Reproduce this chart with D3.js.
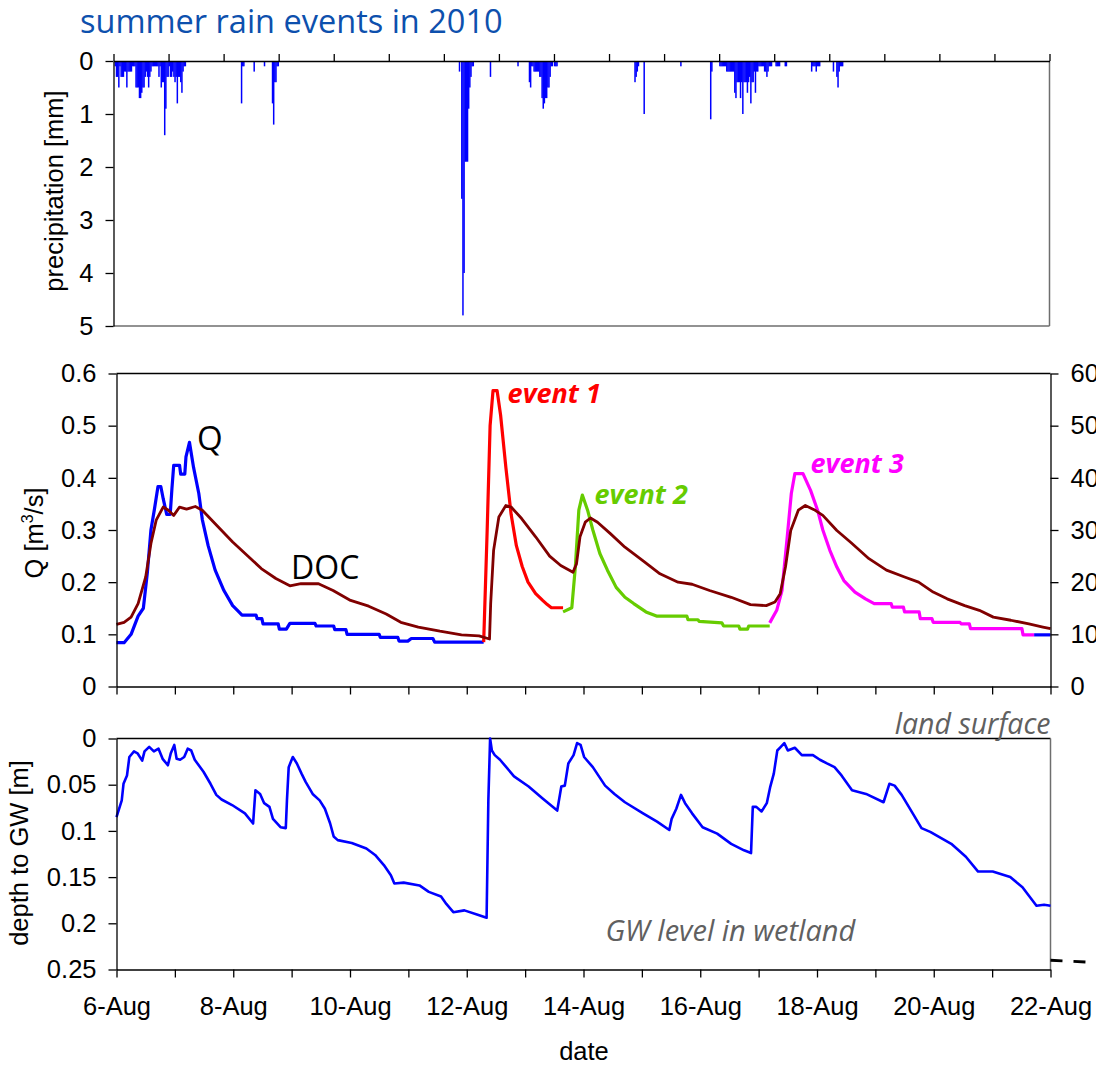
<!DOCTYPE html>
<html>
<head>
<meta charset="utf-8">
<script src="https://cdn.jsdelivr.net/npm/d3@7"></script>
<style>
  body { margin: 0; background: #fff; }
  svg { display: block; font-family: "Liberation Sans", Arial, sans-serif; }
</style>
</head>
<body>
<svg id="chart" width="1096" height="1067"></svg>
<script>
// ---- data (time in days / hours after 6-Aug-2010 00:00) ----

// precipitation [hour, mm], half-hour bins
const precip = [
  [0.5,0.1],[1,0.3],[1.5,0.3],[2,0.5],[2.5,0.1],[3,0.3],[3.5,0.3],[4,0.3],[4.5,0.2],[5,0.2],[5.5,0.5],[6,0.2],[6.5,0.2],[7,0.2],[7.5,0.2],[8,0.1],[8.5,0.1],[9,0.1],
  [9.5,0.5],[10,0.5],[10.5,0.5],[11,0.7],[11.5,0.7],[12,0.6],[12.5,0.5],[13,0.5],[13.5,0.3],[14,0.2],[14.5,0.3],[15,0.5],[15.5,0.3],[16,0.2],[16.5,0.1],
  [17,0.1],[17.5,0.1],[18,0.1],[18.5,0.1],[19,0.1],
  [19.5,0.3],[20,0.1],[20.5,0.5],[21,0.4],[21.5,0.4],[22,1.4],[22.5,0.9],[23,0.3],[23.5,0.3],
  [24,0.1],[24.5,0.3],[25,0.3],[25.5,0.2],[26,0.3],[26.5,0.4],[27,0.3],[27.5,0.8],[28,0.3],[28.5,0.3],[29,0.4],[29.5,0.6],[30,0.2],[30.5,0.1],[31,0.1],
  [55.5,0.8],[56,0.1],[56.5,0.1],
  [61,0.2],
  [65.5,0.1],
  [69,0.8],[69.5,1.2],[70,0.4],[70.5,0.4],[71,0.1],[71.5,0.1],
  [150.5,0.2],[151.5,2.6],[152,4.8],[152.5,4.0],[153,1.9],[153.5,1.9],[154,1.9],[154.5,0.9],[155,0.5],[155.5,0.3],[156,0.1],[156.5,0.1],
  [164,0.3],
  [176,0.1],
  [181,0.4],[181.5,0.5],[182,0.1],[182.5,0.1],[183,0.2],[183.5,0.2],[184,0.2],[184.5,0.2],[185,0.2],[185.5,0.3],[186,0.3],[186.5,0.7],[187,0.9],[187.5,0.8],[188,0.7],[188.5,0.7],[189,0.5],[189.5,0.5],[190,0.3],[190.5,0.1],[191,0.1],[192,0.1],[192.5,0.1],[193,0.1],
  [227,0.4],[227.5,0.3],[228,0.2],[228.5,0.1],
  [231,1.0],
  [247,0.1],
  [260,1.1],[260.5,0.2],
  [264,0.1],[264.5,0.1],[265,0.1],[265.5,0.1],[266,0.1],[266.5,0.1],[267,0.2],[267.5,0.2],[268,0.2],[268.5,0.2],[269,0.2],[269.5,0.2],[270,0.2],
  [270.5,0.6],[271,0.7],[271.5,0.4],[272,0.4],[272.5,0.4],[273,0.7],[273.5,0.4],[274,1.0],[274.5,0.4],[275,0.4],[275.5,0.4],[276,0.6],[276.5,0.4],
  [277,0.3],[277.5,0.8],[278,0.4],[278.5,0.4],[279,0.2],[279.5,0.6],[280,0.2],[280.5,0.2],[281,0.1],[281.5,0.1],[282,0.1],[282.5,0.1],[283,0.1],
  [283.5,0.2],[284,0.2],[284.5,0.3],[285,0.2],[285.5,0.1],[286,0.1],[286.5,0.1],
  [288.5,0.1],[289,0.1],[289.5,0.1],[290,0.1],[292.5,0.1],[293,0.1],
  [304,0.2],[304.5,0.1],[305,0.1],[305.5,0.1],[306,0.2],[306.5,0.1],[307,0.1],[307.5,0.1],
  [313.5,0.2],[315,0.3],[315.5,0.5],[316,0.2],[316.5,0.1],[317,0.1],[317.5,0.1]
];

// discharge Q [day, m3/s], split by colour
const qBase1 = [
  [0,0.084],[0.13,0.084],[0.25,0.10],[0.37,0.135],[0.46,0.15],[0.53,0.22],[0.59,0.30],[0.65,0.34],[0.71,0.383],[0.76,0.383],
  [0.80,0.36],[0.86,0.33],[0.92,0.33],[0.95,0.38],[0.98,0.424],[1.08,0.424],[1.10,0.407],[1.17,0.407],[1.19,0.44],[1.25,0.468],
  [1.32,0.42],[1.41,0.37],[1.47,0.32],[1.57,0.27],[1.69,0.223],[1.84,0.184],[1.99,0.155],[2.08,0.145],[2.15,0.137],[2.39,0.137],
  [2.41,0.13],[2.49,0.13],[2.51,0.12],[2.77,0.12],[2.79,0.11],[2.91,0.11],[2.97,0.121],[3.40,0.121],[3.42,0.116],[3.72,0.116],
  [3.74,0.109],[3.93,0.109],[3.95,0.10],[4.50,0.10],[4.52,0.094],[4.82,0.094],[4.84,0.087],[4.99,0.087],[5.05,0.092],[5.42,0.092],
  [5.45,0.085],[6.29,0.085]
];
const qEvent1 = [
  [6.29,0.085],[6.35,0.30],[6.40,0.50],[6.45,0.567],[6.52,0.567],[6.58,0.52],[6.67,0.42],[6.76,0.33],[6.85,0.27],[6.95,0.23],
  [7.05,0.20],[7.18,0.178],[7.30,0.165],[7.38,0.157],[7.45,0.151],[7.65,0.151]
];
const qEvent2 = [
  [7.65,0.143],[7.80,0.151],[7.86,0.229],[7.92,0.338],[7.98,0.367],[8.07,0.338],[8.16,0.30],[8.28,0.255],[8.41,0.223],[8.56,0.19],
  [8.71,0.171],[8.86,0.159],[9.07,0.143],[9.25,0.135],[9.77,0.135],[9.79,0.128],[9.96,0.128],[9.98,0.125],[10.37,0.122],[10.40,0.116],
  [10.66,0.116],[10.68,0.110],[10.81,0.110],[10.83,0.116],[11.19,0.116]
];
const qEvent3 = [
  [11.19,0.122],[11.31,0.146],[11.40,0.184],[11.49,0.287],[11.56,0.37],[11.62,0.408],[11.76,0.408],[11.89,0.376],[12.01,0.338],[12.10,0.30],
  [12.22,0.261],[12.34,0.229],[12.46,0.203],[12.65,0.181],[12.83,0.168],[12.98,0.159],[13.27,0.159],[13.29,0.152],[13.48,0.152],[13.50,0.143],
  [13.75,0.143],[13.77,0.13],[13.97,0.13],[13.99,0.123],[14.45,0.123],[14.47,0.12],[14.61,0.12],[14.63,0.111],[15.51,0.111],[15.53,0.099],[15.72,0.099]
];
const qBase2 = [[15.72,0.099],[16,0.099]];

// DOC [day, mg/L] (right axis)
const doc = [
  [0,11.9],[0.13,12.3],[0.25,13.3],[0.37,15.9],[0.50,21],[0.59,27.4],[0.68,31.9],[0.80,34.4],[0.89,33.8],[0.98,32.8],
  [1.08,34.4],[1.20,34.0],[1.35,34.5],[1.47,33.8],[1.69,31.2],[1.99,27.7],[2.30,24.5],[2.48,22.6],[2.73,20.7],[2.97,19.3],
  [3.16,19.7],[3.46,19.7],[3.71,18.4],[4.01,16.5],[4.32,15.4],[4.62,13.9],[4.87,12.3],[5.17,11.4],[5.54,10.6],[5.91,9.9],
  [6.21,9.7],[6.39,9.1],[6.41,15.9],[6.46,26.1],[6.55,32.5],[6.67,34.7],[6.76,34.4],[6.94,32.2],[7.18,28.7],[7.42,25.0],
  [7.61,23.2],[7.82,21.9],[7.88,23.5],[7.94,28.7],[8.03,31.5],[8.12,32.3],[8.24,31.5],[8.46,29.3],[8.71,26.7],[9.01,24.2],
  [9.31,21.6],[9.62,20.0],[9.86,19.6],[10.16,18.4],[10.53,17.1],[10.86,15.7],[11.13,15.5],[11.28,16.2],[11.37,17.8],[11.46,22.9],
  [11.55,29.9],[11.68,33.8],[11.80,34.7],[11.95,33.9],[12.10,32.8],[12.34,29.9],[12.59,27.5],[12.89,24.5],[13.19,22.3],[13.50,21.0],
  [13.74,20.0],[13.99,18.1],[14.23,16.8],[14.53,15.5],[14.78,14.6],[15.02,13.3],[15.32,12.7],[15.63,12.0],[15.87,11.4],[16,11.1]
];

// depth to groundwater [day, m]
const gwDepth = [
  [0,0.085],[0.09,0.067],[0.12,0.049],[0.18,0.040],[0.22,0.020],[0.30,0.014],[0.36,0.016],[0.44,0.024],[0.48,0.014],[0.56,0.009],
  [0.64,0.014],[0.72,0.011],[0.79,0.022],[0.88,0.029],[0.93,0.016],[0.99,0.007],[1.03,0.022],[1.09,0.023],[1.16,0.020],[1.22,0.011],
  [1.28,0.013],[1.34,0.023],[1.49,0.036],[1.61,0.049],[1.71,0.061],[1.80,0.066],[1.98,0.072],[2.20,0.081],[2.34,0.092],[2.38,0.056],
  [2.46,0.060],[2.53,0.070],[2.62,0.074],[2.68,0.087],[2.81,0.096],[2.90,0.097],[2.92,0.067],[2.95,0.031],[3.02,0.020],[3.09,0.027],
  [3.17,0.038],[3.24,0.047],[3.36,0.060],[3.48,0.067],[3.57,0.076],[3.66,0.092],[3.72,0.106],[3.79,0.110],[4.03,0.113],[4.28,0.119],
  [4.43,0.126],[4.58,0.137],[4.70,0.148],[4.76,0.157],[4.92,0.156],[5.19,0.159],[5.35,0.166],[5.56,0.171],[5.65,0.179],[5.77,0.188],
  [5.96,0.186],[6.20,0.191],[6.34,0.194],[6.37,0.067],[6.40,0.0],[6.43,0.013],[6.48,0.018],[6.57,0.023],[6.81,0.041],[7.06,0.052],
  [7.30,0.065],[7.55,0.078],[7.62,0.052],[7.68,0.051],[7.74,0.027],[7.83,0.018],[7.89,0.005],[7.95,0.007],[8.01,0.020],[8.16,0.031],
  [8.37,0.051],[8.53,0.060],[8.71,0.069],[9.02,0.081],[9.26,0.090],[9.47,0.099],[9.51,0.087],[9.59,0.076],[9.67,0.061],[9.74,0.070],
  [9.86,0.081],[10.04,0.096],[10.29,0.103],[10.53,0.114],[10.75,0.121],[10.87,0.124],[10.90,0.074],[10.96,0.074],[11.05,0.079],[11.14,0.070],
  [11.20,0.052],[11.26,0.038],[11.32,0.013],[11.38,0.009],[11.44,0.005],[11.50,0.013],[11.62,0.010],[11.74,0.018],[11.93,0.018],[12.05,0.023],
  [12.17,0.027],[12.30,0.031],[12.42,0.040],[12.60,0.056],[12.84,0.060],[13.14,0.069],[13.24,0.049],[13.33,0.051],[13.45,0.061],[13.64,0.081],
  [13.79,0.097],[13.94,0.101],[14.30,0.114],[14.55,0.128],[14.76,0.144],[15.01,0.144],[15.31,0.150],[15.52,0.161],[15.64,0.171],[15.76,0.181],
  [15.89,0.180],[16,0.181]
];

// wetland bottom marker continuing beyond the plot (dashed)
const wetlandMarker = [[16,0.24],[16.8,0.2425]];

const qTicks = [0, 0.1, 0.2, 0.3, 0.4, 0.5, 0.6];
const docTicks = [0, 10, 20, 30, 40, 50, 60];
const precipTicks = [0, 1, 2, 3, 4, 5];
const gwTicks = [0, 0.05, 0.1, 0.15, 0.2, 0.25];

// ---- scales ----
const start = new Date(2010, 7, 6);
const toDate = d => new Date(+start + d * 864e5);

const svg = d3.select("#chart");
svg.append("rect").attr("width", 1096).attr("height", 1067).attr("fill", "#fff");

const xTop = d3.scaleTime().domain([start, toDate(17)]).range([113.5, 1049.5]);
const x = d3.scaleTime().domain([start, toDate(16)]).range([116.5, 1050.5]);
const yPrecip = d3.scaleLinear().domain([0, 5]).range([61, 326]);
const yQ = d3.scaleLinear().domain([0, 0.6]).range([686.5, 373.5]);
const yDoc = d3.scaleLinear().domain([0, 60]).range([686.5, 373.5]);
const yGw = d3.scaleLinear().domain([0, 0.25]).range([738.5, 969.5]);

const fmt = d3.format("~g");
const dateFmt = d3.timeFormat("%-d-%b");
const fontSize = 25.5;

function styleAxis(g) {
    g.attr("font-family", null).attr("font-size", null);
    g.selectAll("text").attr("font-size", fontSize).attr("fill", "#000");
    g.selectAll("line, path").attr("stroke", "#000").attr("stroke-width", 1.3);
}

function border(x1, y1, x2, y2, color) {
    svg.append("line")
        .attr("x1", x1).attr("y1", y1).attr("x2", x2).attr("y2", y2)
        .attr("stroke", color).attr("stroke-width", 1.5);
}

// ---- title ----
svg.append("text")
    .attr("x", 80).attr("y", 33)
    .attr("font-family", "'Open Sans', sans-serif")
    .attr("font-size", 32.5)
    .attr("fill", "#0d50ad")
    .text("summer rain events in 2010");

// ---- top panel: precipitation ----
const barW = xTop(toDate(0.5 / 24)) - xTop(start) + 0.35;
svg.append("g").selectAll("rect")
    .data(precip)
    .join("rect")
    .attr("x", d => xTop(toDate(d[0] / 24)))
    .attr("y", yPrecip(0))
    .attr("width", barW)
    .attr("height", d => yPrecip(d[1]) - yPrecip(0))
    .attr("fill", "#0000ff");

border(1049.5, 61, 1049.5, 326, "#6e6e6e");
border(113.5, 326, 1049.5, 326, "#6e6e6e");

svg.append("g")
    .attr("transform", "translate(0,61)")
    .call(d3.axisTop(xTop).ticks(d3.timeDay.every(1)).tickSize(7).tickSizeOuter(0).tickFormat(""))
    .call(styleAxis);

svg.append("g")
    .attr("transform", "translate(113.5,0)")
    .call(d3.axisLeft(yPrecip).tickValues(precipTicks).tickFormat(fmt).tickSize(8).tickSizeOuter(0).tickPadding(12))
    .call(styleAxis);

svg.append("text")
    .attr("transform", "translate(63,191) rotate(-90)")
    .attr("text-anchor", "middle")
    .attr("font-size", fontSize)
    .text("precipitation [mm]");

// ---- middle panel: Q and DOC ----
border(116.5, 373.5, 1050.5, 373.5, "#000");

const qLine = d3.line().x(d => x(toDate(d[0]))).y(d => yQ(d[1]));
const docLine = d3.line().x(d => x(toDate(d[0]))).y(d => yDoc(d[1]));

const qSeries = [
    { data: qBase1, color: "#0000ff" },
    { data: qEvent1, color: "#ff0000" },
    { data: qEvent2, color: "#66cc00" },
    { data: qEvent3, color: "#ff00ff" },
    { data: qBase2, color: "#0000ff" }
];

svg.append("g").selectAll("path")
    .data(qSeries)
    .join("path")
    .attr("d", d => qLine(d.data))
    .attr("fill", "none")
    .attr("stroke", d => d.color)
    .attr("stroke-width", 3.2)
    .attr("stroke-linejoin", "round");

svg.append("path")
    .attr("d", docLine(doc))
    .attr("fill", "none")
    .attr("stroke", "#800000")
    .attr("stroke-width", 2.8)
    .attr("stroke-linejoin", "round");

svg.append("g")
    .attr("transform", "translate(0,686.5)")
    .call(d3.axisBottom(x).ticks(d3.timeDay.every(1)).tickSize(8).tickSizeOuter(0).tickFormat(""))
    .call(styleAxis);

svg.append("g")
    .attr("transform", "translate(116.5,0)")
    .call(d3.axisLeft(yQ).tickValues(qTicks).tickFormat(fmt).tickSize(8).tickSizeOuter(0).tickPadding(12))
    .call(styleAxis);

svg.append("g")
    .attr("transform", "translate(1050.5,0)")
    .call(d3.axisRight(yDoc).tickValues(docTicks).tickFormat(fmt).tickSize(8).tickSizeOuter(0).tickPadding(12))
    .call(styleAxis);

const qTitle = svg.append("text")
    .attr("transform", "translate(43,533) rotate(-90)")
    .attr("text-anchor", "middle")
    .attr("font-size", fontSize);
qTitle.append("tspan").text("Q [m");
qTitle.append("tspan").attr("font-size", 16).attr("dy", -10).text("3");
qTitle.append("tspan").attr("dy", 10).text("/s]");

// in-plot labels
const calibri = "'Open Sans', sans-serif";
svg.append("text")
    .attr("x", x(toDate(1.38))).attr("y", yQ(0.453))
    .attr("font-family", calibri).attr("font-size", 33)
    .text("Q");
svg.append("text")
    .attr("x", x(toDate(2.99))).attr("y", yQ(0.206))
    .attr("font-family", calibri).attr("font-size", 32)
    .text("DOC");

const eventLabels = [
    { text: "event 1", t: 6.70, q: 0.543, color: "#ff0000" },
    { text: "event 2", t: 8.19, q: 0.350, color: "#66cc00" },
    { text: "event 3", t: 11.89, q: 0.409, color: "#ff00ff" }
];
svg.append("g").selectAll("text")
    .data(eventLabels)
    .join("text")
    .attr("x", d => x(toDate(d.t)))
    .attr("y", d => yQ(d.q))
    .attr("font-family", calibri)
    .attr("font-size", 27)
    .attr("font-weight", "bold")
    .attr("font-style", "italic")
    .attr("fill", d => d.color)
    .text(d => d.text);

// ---- bottom panel: groundwater ----
border(116.5, 738.5, 1050.5, 738.5, "#000");
border(1050.5, 738.5, 1050.5, 969.5, "#6e6e6e");

const gwLine = d3.line().x(d => x(toDate(d[0]))).y(d => yGw(d[1]));
svg.append("path")
    .attr("d", gwLine(gwDepth))
    .attr("fill", "none")
    .attr("stroke", "#0000ff")
    .attr("stroke-width", 2.6)
    .attr("stroke-linejoin", "round");

svg.append("path")
    .attr("d", gwLine(wetlandMarker))
    .attr("fill", "none")
    .attr("stroke", "#000")
    .attr("stroke-width", 2.8)
    .attr("stroke-dasharray", "12,11");

svg.append("g")
    .attr("transform", "translate(0,969.5)")
    .call(d3.axisBottom(x).ticks(d3.timeDay.every(1)).tickSize(8).tickSizeOuter(0).tickPadding(19.5)
        .tickFormat((d, i) => i % 2 === 0 ? dateFmt(d) : ""))
    .call(styleAxis);

svg.append("g")
    .attr("transform", "translate(116.5,0)")
    .call(d3.axisLeft(yGw).tickValues(gwTicks).tickFormat(fmt).tickSize(8).tickSizeOuter(0).tickPadding(12))
    .call(styleAxis);

svg.append("text")
    .attr("transform", "translate(28,853) rotate(-90)")
    .attr("text-anchor", "middle")
    .attr("font-size", fontSize)
    .text("depth to GW [m]");

svg.append("text")
    .attr("x", 584).attr("y", 1060)
    .attr("text-anchor", "middle")
    .attr("font-size", fontSize)
    .text("date");

svg.append("text")
    .attr("x", x(toDate(16))).attr("y", yGw(0) - 5)
    .attr("text-anchor", "end")
    .attr("font-family", calibri).attr("font-size", 28.5)
    .attr("font-style", "italic").attr("fill", "#606060")
    .text("land surface");

svg.append("text")
    .attr("x", x(toDate(8.375))).attr("y", yGw(0.219))
    .attr("font-family", calibri).attr("font-size", 29)
    .attr("font-style", "italic").attr("fill", "#606060")
    .text("GW level in wetland");
</script>
</body>
</html>
